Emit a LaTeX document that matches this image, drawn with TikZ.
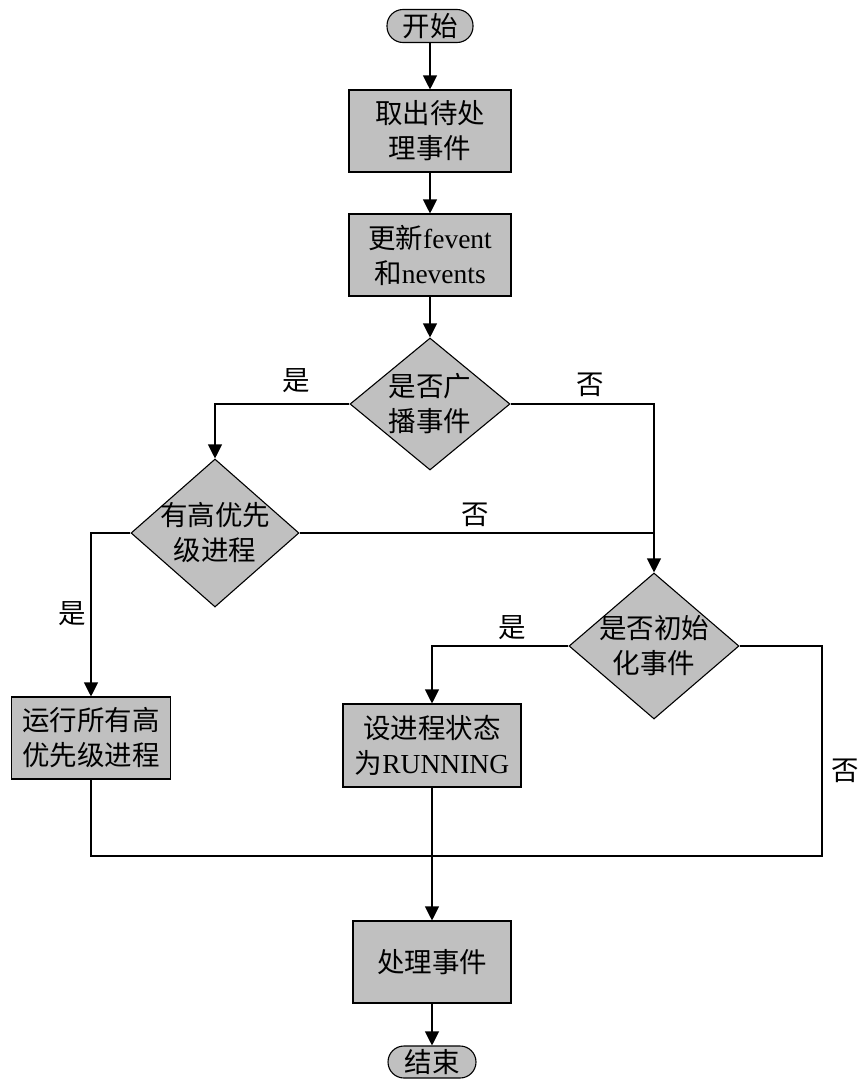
\documentclass[tikz,border=0pt]{standalone}
\usepackage{fontspec}
\setmainfont{Liberation Serif}
\newfontfamily\cjk{Noto Sans CJK SC}
\newcommand\zh[1]{{\cjk #1}}
\usetikzlibrary{shapes.geometric,arrows.meta}
\definecolor{boxgray}{HTML}{C0C0C0}
\begin{document}
\begin{tikzpicture}[x=1pt,y=-1pt,
  every node/.style={font=\fontsize{27.5}{35}\selectfont, inner sep=0pt},
  term/.style={draw, fill=boxgray, rounded corners=16pt, minimum width=86pt, minimum height=33pt},
  proc/.style={draw, fill=boxgray, align=center, minimum height=82pt},
  dec/.style={draw, fill=boxgray, diamond, inner sep=0pt},
  dtext/.style={align=center, font=\cjk\fontsize{27.5}{35}\selectfont},
  lbl/.style={font=\cjk\fontsize{27.5}{35}\selectfont},
  arr/.style={-{Triangle[length=14pt,width=14pt]}},
  line width=1.1pt]
\useasboundingbox (0,0) rectangle (860,1079);

% terminals and process boxes
\node[term] (st) at (430,26) {\zh{开始}};
\node[proc, minimum width=162pt] (b1) at (430,131) {\zh{取出待处}\\\zh{理事件}};
\node[proc, minimum width=162pt] (b2) at (430,255) {\zh{更新}fevent\\\zh{和}nevents};

% decisions
\node[dec, minimum width=160pt, minimum height=132pt] (d1) at (430,404) {};
\node[dtext] (d1t) at (d1) {是否广\\播事件};
\node[dec, minimum width=168pt, minimum height=148pt] (d2) at (215,533) {};
\node[dtext] (d2t) at (d2) {有高优先\\级进程};
\node[dec, minimum width=170pt, minimum height=146pt] (d3) at (654,646) {};
\node[dtext] (d3t) at (d3) {是否初始\\化事件};

\node[proc, minimum width=159pt] (b3) at (91,738) {\zh{运行所有高}\\\zh{优先级进程}};
\node[proc, minimum width=178pt, minimum height=83pt] (b4) at (432,745.5) {\zh{设进程状态}\\\zh{为}RUNNING};
\node[proc, minimum width=158pt] (b5) at (432,962) {\zh{处理事件}};
\node[term, minimum width=88pt, minimum height=32pt] (en) at (432,1062) {\zh{结束}};

% branch labels
\node[lbl] (l1) at (296,381) {是};
\node[lbl] (l2) at (590,385) {否};
\node[lbl] (l3) at (475,515) {否};
\node[lbl] (l4) at (72,614) {是};
\node[lbl] (l5) at (512,628) {是};
\node[lbl] (l6) at (845,771) {否};

% connectors
\draw[arr] (st) -- (b1);
\draw[arr] (b1) -- (b2);
\draw[arr] (b2) -- (d1);
\draw[arr] (d1.west) -| (d2.north);
\draw[arr] (d1.east) -| (d3.north);
\coordinate (j1) at (d2.east -| d3.north);
\draw (d2.east) -- (j1);
\draw[arr] (d2.west) -| (b3.north);
\draw[arr] (d3.west) -| (b4.north);
\coordinate (j2) at (822,856);
\coordinate (j3) at (b4.south |- j2);
\draw (d3.east) -| (j2) -- (j3);
\draw (b3.south) |- (j3);
\draw[arr] (b4) -- (b5);
\draw[arr] (b5) -- (en);
\end{tikzpicture}
\end{document}
